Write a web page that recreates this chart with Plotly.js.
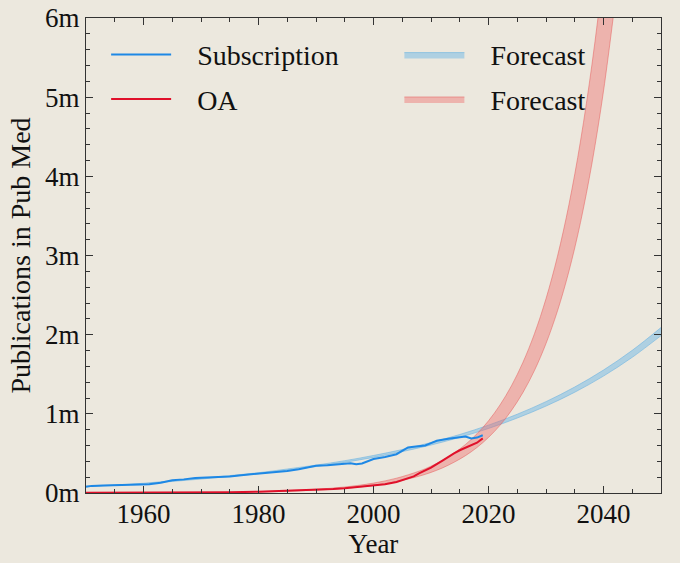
<!DOCTYPE html>
<html>
<head>
<meta charset="utf-8">
<script src="https://cdn.plot.ly/plotly-3.0.1.min.js"></script>
<style>body{margin:0;background:#ece8de}</style>
</head>
<body>
<div id="miDiv" style="width:680px;height:563px"></div>
<script>
// publicaciones en Pub Med, en millones
var anios_sus = [1950,1951,1953,1955,1957,1959,1961,1963,1965,1967,1969,1971,1973,1975,1977,1979,1981,1983,1985,1987,1989,1990,1992,1994,1996,1997,1998,2000,2002,2004,2005,2006,2007,2009,2010,2011,2013,2015,2016,2017,2018,2019];
var suscripcion = [0.08,0.09,0.095,0.097,0.10,0.10,0.11,0.13,0.16,0.172,0.19,0.195,0.20,0.207,0.225,0.238,0.243,0.258,0.278,0.30,0.33,0.345,0.35,0.365,0.375,0.362,0.372,0.43,0.455,0.49,0.535,0.575,0.585,0.60,0.63,0.66,0.685,0.705,0.712,0.69,0.70,0.73];

var anios_oa = [1950,1960,1970,1975,1980,1985,1990,1993,1995,1997,2000,2002,2004,2005,2006,2007,2008,2010,2012,2013,2014,2015,2016,2017,2018,2019];
var oa = [0.002,0.003,0.006,0.01,0.015,0.025,0.035,0.05,0.06,0.075,0.09,0.11,0.14,0.16,0.185,0.21,0.25,0.32,0.41,0.46,0.50,0.54,0.575,0.60,0.635,0.69];

// prevision suscripcion (banda)
var anios_prev_sus = [1950,1955,1960,1965,1970,1975,1980,1985,1990,1995,2000,2005,2010,2015,2020,2025,2030,2035,2040,2045,2050];
var prev_sus_baja = [0.083,0.096,0.117,0.146,0.176,0.210,0.244,0.289,0.334,0.388,0.450,0.523,0.606,0.703,0.815,0.947,1.098,1.273,1.477,1.714,1.988];
var prev_sus_alta = [0.087,0.100,0.123,0.154,0.184,0.220,0.256,0.303,0.352,0.408,0.474,0.549,0.638,0.739,0.857,0.995,1.154,1.339,1.553,1.802,2.090];

// prevision OA (banda)
var anios_prev_oa = [1980,1985,1990,1995,2000,2004,2008,2010,2012,2014,2016,2018,2020,2022,2024,2026,2028,2030,2032,2034,2036,2038,2040,2042];
var prev_oa_baja = [0.013,0.022,0.036,0.059,0.096,0.144,0.214,0.260,0.317,0.388,0.472,0.575,0.702,0.855,1.043,1.271,1.549,1.888,2.301,2.805,3.419,4.168,5.078,6.19];
var prev_oa_alta = [0.017,0.029,0.047,0.076,0.125,0.187,0.278,0.339,0.413,0.504,0.613,0.748,0.912,1.112,1.355,1.652,2.013,2.454,2.991,3.646,4.445,5.417,6.60,8.05];

var fuente = 'Liberation Serif, Times New Roman, serif';
var hueco = '\u00a0\u00a0\u00a0';

var data = [
  {x: anios_prev_sus, y: prev_sus_baja, type: 'scatter', mode: 'lines', showlegend: false,
   legend: 'legend2', legendgroup: 'c',
   line: {color: 'rgba(110,180,225,0.6)', width: 1, shape: 'spline'}, hoverinfo: 'skip'},
  {x: anios_prev_sus, y: prev_sus_alta, type: 'scatter', mode: 'lines', name: hueco + 'Forecast',
   fill: 'tonexty', fillcolor: 'rgba(100,180,230,0.45)', legend: 'legend2', legendgroup: 'c',
   line: {color: 'rgba(110,180,225,0.6)', width: 1, shape: 'spline'}},
  {x: anios_prev_oa, y: prev_oa_baja, type: 'scatter', mode: 'lines', showlegend: false,
   legend: 'legend2', legendgroup: 'd',
   line: {color: 'rgba(230,90,90,0.5)', width: 1, shape: 'spline'}, hoverinfo: 'skip'},
  {x: anios_prev_oa, y: prev_oa_alta, type: 'scatter', mode: 'lines', name: hueco + 'Forecast',
   fill: 'tonexty', fillcolor: 'rgba(240,100,100,0.4)', legend: 'legend2', legendgroup: 'd',
   line: {color: 'rgba(230,90,90,0.5)', width: 1, shape: 'spline'}},
  {x: anios_sus, y: suscripcion, type: 'scatter', mode: 'lines', name: hueco + 'Subscription',
   legendgroup: 'a', line: {color: '#1e88e5', width: 2}},
  {x: anios_oa, y: oa, type: 'scatter', mode: 'lines', name: hueco + 'OA',
   legendgroup: 'b', line: {color: '#e0102a', width: 2}}
];

var ejes = {
  showline: true, linecolor: '#333', linewidth: 1.3, mirror: 'allticks',
  ticks: 'inside', ticklen: 7, tickcolor: '#333', tickwidth: 1.2,
  showgrid: false, zeroline: false,
  tickfont: {family: fuente, size: 27, color: '#111'}
};

var layout = {
  width: 680, height: 563,
  margin: {l: 86, r: 19, t: 18, b: 70},
  paper_bgcolor: '#ece8de', plot_bgcolor: '#ece8de',
  font: {family: fuente, color: '#111'},
  xaxis: Object.assign({}, ejes, {
    range: [1950, 2050], tick0: 1960, dtick: 20, ticklabelstandoff: -4,
    minor: {ticks: 'inside', ticklen: 4, dtick: 5, tickcolor: '#333'},
    title: {text: 'Year', font: {family: fuente, size: 27}, standoff: 3}
  }),
  yaxis: Object.assign({}, ejes, {
    range: [0, 6], dtick: 1, ticksuffix: 'm',
    minor: {ticks: 'inside', ticklen: 4, dtick: 0.2, tickcolor: '#333'},
    title: {text: 'Publications in Pub Med', font: {family: fuente, size: 28}, standoff: 6}
  }),
  legend: {x: 0.035, y: 0.975, xanchor: 'left', yanchor: 'top', bgcolor: 'rgba(0,0,0,0)',
    font: {family: fuente, size: 28}, itemwidth: 60, traceorder: 'grouped', tracegroupgap: 5},
  legend2: {x: 0.545, y: 0.975, xanchor: 'left', yanchor: 'top', bgcolor: 'rgba(0,0,0,0)',
    font: {family: fuente, size: 28}, itemwidth: 60, traceorder: 'grouped', tracegroupgap: 5}
};

Plotly.newPlot(document.getElementById('miDiv'), data, layout, {displayModeBar: false});
</script>
</body>
</html>
